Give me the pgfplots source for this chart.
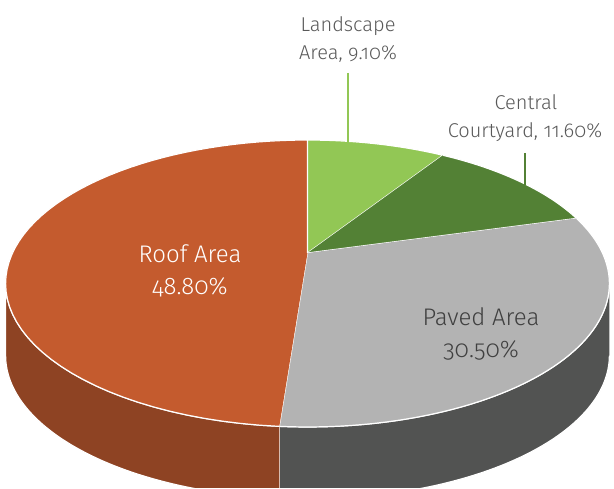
\documentclass[border=0pt]{standalone}
\usepackage{pgfplots}
\usepackage{pgfplotstable}
\pgfplotsset{compat=1.18}
\usepackage{fontspec}
\setmainfont{Fira Sans Light}[Numbers=OldStyle]

\definecolor{roof}{RGB}{196,91,46}
\definecolor{roofside}{RGB}{142,67,35}
\definecolor{paved}{RGB}{179,179,179}
\definecolor{pavedside}{RGB}{82,83,82}
\definecolor{land}{RGB}{146,199,85}
\definecolor{court}{RGB}{83,129,53}
\definecolor{lbl}{RGB}{89,89,89}
\definecolor{dtxt}{RGB}{64,64,64}

\pgfplotstableread{
label value
Landscape 9.1
Courtyard 11.6
Paved 30.5
Roof 48.8
}\piedata

\pgfplotstablegetelem{0}{value}\of\piedata \let\vA\pgfplotsretval
\pgfplotstablegetelem{1}{value}\of\piedata \let\vB\pgfplotsretval
\pgfplotstablegetelem{2}{value}\of\piedata \let\vC\pgfplotsretval
\pgfplotstablegetelem{3}{value}\of\piedata \let\vD\pgfplotsretval
\pgfmathsetmacro\aA{0}
\pgfmathsetmacro\aB{\aA+3.6*\vA}
\pgfmathsetmacro\aC{\aB+3.6*\vB}
\pgfmathsetmacro\aD{\aC+3.6*\vC}
\pgfmathsetmacro\aE{\aD+3.6*\vD}

% perspective projection of the pie's top disc
\pgfmathdeclarefunction{pX}{1}{\pgfmathparse{307.5+295*sin(#1)/(1+0.2126*cos(#1))}}
\pgfmathdeclarefunction{pY}{1}{\pgfmathparse{235+137*cos(#1)/(1+0.2126*cos(#1))}}
\def\depth{72}
\def\silR{102.3}
\def\silL{257.7}

\begin{document}
\begin{tikzpicture}
\begin{axis}[
  width=614pt, height=488pt, scale only axis,
  xmin=0, xmax=614, ymin=0, ymax=488,
  hide axis, clip=true,
]
% side walls
\addplot[fill=pavedside, draw=white, line width=1.2pt, domain=0:2.05, samples=124, variable=\t]
  ({pX(\silR+(\aD-\silR)*min(\t,1,2.05-\t))},
   {pY(\silR+(\aD-\silR)*min(\t,1,2.05-\t))-\depth*(\t>1.02)});
\addplot[fill=roofside, draw=white, line width=1.2pt, domain=0:2.05, samples=124, variable=\t]
  ({pX(\aD+(\silL-\aD)*min(\t,1,2.05-\t))},
   {pY(\aD+(\silL-\aD)*min(\t,1,2.05-\t))-\depth*(\t>1.02)});
% top wedges
\addplot[fill=land, draw=white, line width=1.2pt, domain=0:1.1, samples=67, variable=\t]
  ({ifthenelse(\t>1.005,307.5,pX(\aA+(\aB-\aA)*\t))},
   {ifthenelse(\t>1.005,235,pY(\aA+(\aB-\aA)*\t))});
\addplot[fill=court, draw=white, line width=1.2pt, domain=0:1.1, samples=67, variable=\t]
  ({ifthenelse(\t>1.005,307.5,pX(\aB+(\aC-\aB)*\t))},
   {ifthenelse(\t>1.005,235,pY(\aB+(\aC-\aB)*\t))});
\addplot[fill=paved, draw=white, line width=1.2pt, domain=0:1.1, samples=67, variable=\t]
  ({ifthenelse(\t>1.005,307.5,pX(\aC+(\aD-\aC)*\t))},
   {ifthenelse(\t>1.005,235,pY(\aC+(\aD-\aC)*\t))});
\addplot[fill=roof, draw=white, line width=1.2pt, domain=0:1.1, samples=67, variable=\t]
  ({ifthenelse(\t>1.005,307.5,pX(\aD+(\aE-\aD)*\t))},
   {ifthenelse(\t>1.005,235,pY(\aD+(\aE-\aD)*\t))});
% leader lines
\addplot[land, line width=1.5pt] coordinates {(348,415) (348,346)};
\addplot[court, line width=1.5pt] coordinates {(525,335) (525,303)};
% labels
\node[anchor=base, text=lbl, font=\fontsize{20}{24}\selectfont] at (axis cs:348,456) {Landscape};
\node[anchor=base, text=lbl, font=\fontsize{20}{24}\selectfont] at (axis cs:348,428) {Area, 9.10\%};
\node[anchor=base, text=lbl, font=\fontsize{20}{24}\selectfont] at (axis cs:526,378) {Central};
\node[anchor=base, text=lbl, font=\fontsize{20}{24}\selectfont] at (axis cs:525,350) {Courtyard, 11.60\%};
\node[anchor=base, text=white, font=\fontsize{24}{28}\selectfont] at (axis cs:190,225) {Roof Area};
\node[anchor=base, text=white, font=\fontsize{24}{28}\selectfont] at (axis cs:190,193) {48.80\%};
\node[anchor=base, text=dtxt, font=\fontsize{24}{28}\selectfont] at (axis cs:481,162) {Paved Area};
\node[anchor=base, text=dtxt, font=\fontsize{24}{28}\selectfont] at (axis cs:481,130) {30.50\%};
\end{axis}
\path (current axis.south west) rectangle (current axis.north east);
\end{tikzpicture}
\end{document}
